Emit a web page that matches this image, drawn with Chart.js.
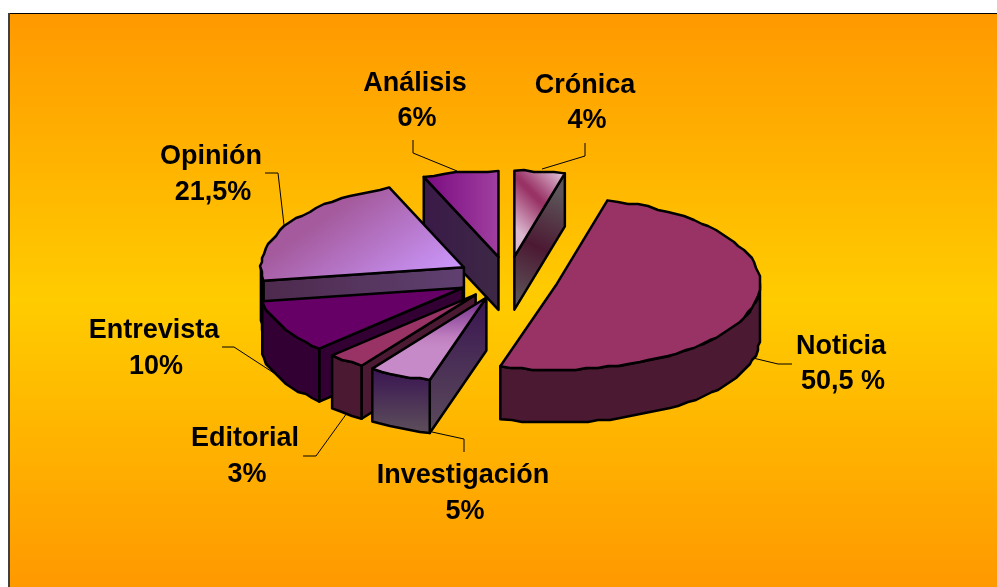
<!DOCTYPE html>
<html>
<head>
<meta charset="utf-8">
<title>Géneros</title>
<script src="https://cdn.jsdelivr.net/npm/chart.js@4/dist/chart.umd.min.js"></script>
<style>
  html, body { margin: 0; padding: 0; background: #fff; overflow: hidden; }
  canvas { display: block; }
</style>
</head>
<body>
<canvas id="pie" width="997" height="587"></canvas>
<script>
// clockwise from 12 o'clock, as in the picture
const categories = ["Crónica", "Noticia", "Investigación", "Editorial", "Entrevista", "Opinión", "Análisis"]
const values = [4, 50.5, 5, 3, 10, 21.5, 6]
const valueLabels = ["4%", "50,5 %", "5%", "3%", "10%", "21,5%", "6%"]

// look of the pie
const pie = { x: 508, y: 278, rx: 203, ry: 86, depth: 53, explode: 0.25 }

// painting order is back to front
const paintOrder = [0, 6, 5, 4, 3, 2, 1]

// top: gradient line relative to the slice apex, then stops
const looks = [
  {
    top: [[42, -87, -8, -37], ["#dcb8d0", "#993366", "#993366", "#dcb8d0"], [0, 0.45, 0.5, 1]],
    wall: [[0, -85, -50, 20], ["#5c5458", "#4c1933", "#5c5458"], [0, 0.5, 1]],
  },
  { top: "#993366", wall: "#4c1933" },
  {
    top: [[0, 0, 0, 50], ["#702a88", "#c080c0", "#c68ac8"], [0, 0.8, 1]],
    wall: [[0, 0, 0, 133], ["#3a1552", "#5a4a5a"], [0, 1]],
    rim: [[0, 72, 0, 130], ["#3a1552", "#5a4a5a"], [0, 1]],
  },
  { top: "#993366", wall: "#4c1933" },
  { top: "#660066", wall: "#330033" },
  {
    top: [[-90, -85, -20, 15], ["#a45a9c", "#cc99ff"], [0, 1]],
    wall: [[-200, 0, 0, 0], ["#4d2a4d", "#5f4070"], [0, 1]],
  },
  {
    top: [[-75, 0, 0, 0], ["#7a0a80", "#a040a0"], [0, 1]],
    wall: [[-75, 0, 0, 0], ["#3a1a48", "#3d2845"], [0, 1]],
  },
]

// label text centres and leader lines, same order as categories
const labelSpots = [
  { x: 585, y: 86, dy: 35, line: [[585, 143], [585, 156], [542, 169]] },
  { x: 841, y: 347, dy: 35, line: [[753, 358], [778, 364], [792, 364]] },
  { x: 463, y: 476, dy: 36, line: [[432, 432], [464, 439], [464, 452]] },
  { x: 245, y: 439, dy: 36, line: [[347, 413], [316, 456], [303, 456]] },
  { x: 154, y: 331, dy: 36, line: [[222, 347], [234, 347], [280, 377]] },
  { x: 211, y: 157, dy: 36, line: [[265, 173], [278, 173], [284, 225]] },
  { x: 415, y: 84, dy: 35, line: [[413, 140], [413, 153], [457, 171]] },
]

function paint(ctx, apexX, apexY, look) {
  if (typeof look === "string") return look
  const [pts, colors, stops] = look
  const g = ctx.createLinearGradient(apexX + pts[0], apexY + pts[1], apexX + pts[2], apexY + pts[3])
  colors.forEach((c, i) => g.addColorStop(stops[i], c))
  return g
}

function face(ctx, fill) {
  ctx.fillStyle = fill
  ctx.fill()
  ctx.stroke()
}

// the curved edges in the picture are stepped, so snap them to a coarse grid
function roughArc(ctx, cx, cy, from, to) {
  const grid = 2
  const n = Math.max(2, Math.round((Math.abs(to - from) * pie.rx) / 11))
  for (let k = 0; k <= n; k++) {
    const a = from + ((to - from) * k) / n
    let x = cx + Math.cos(a) * pie.rx
    let y = cy + Math.sin(a) * pie.ry
    if (k > 0 && k < n) {
      x = Math.round(x / grid) * grid
      y = Math.round(y / grid) * grid
    }
    ctx.lineTo(x, y)
  }
}

function wall(ctx, cx, cy, angle, fill) {
  const px = cx + Math.cos(angle) * pie.rx
  const py = cy + Math.sin(angle) * pie.ry
  ctx.beginPath()
  ctx.moveTo(cx, cy)
  ctx.lineTo(px, py)
  ctx.lineTo(px, py + pie.depth)
  ctx.lineTo(cx, cy + pie.depth)
  ctx.closePath()
  face(ctx, fill)
}

const panel = {
  id: "panel",
  beforeDraw(chart) {
    const { ctx } = chart
    const g = ctx.createLinearGradient(0, 14, 0, 587)
    g.addColorStop(0, "#ff9900")
    g.addColorStop(0.5, "#ffcc00")
    g.addColorStop(1, "#ff9900")
    ctx.fillStyle = "#fff"
    ctx.fillRect(0, 0, 997, 587)
    ctx.fillStyle = g
    ctx.fillRect(9, 14, 988, 573)
    ctx.fillStyle = "#000"
    ctx.fillRect(8, 13, 989, 1)
    ctx.fillStyle = "#404040"
    ctx.fillRect(8, 13, 2, 574)
  },
}

// Chart.js works out the slice angles, this tilts and extrudes them
const tilted = {
  id: "tilted",
  beforeDatasetsDraw(chart) {
    const { ctx } = chart
    const arcs = chart.getDatasetMeta(0).data
    ctx.save()
    ctx.strokeStyle = "#000"
    ctx.lineWidth = 2.5
    ctx.lineJoin = "round"
    paintOrder.forEach((i) => {
      const { startAngle: a0, endAngle: a1 } = arcs[i]
      const look = looks[i]
      const mid = (a0 + a1) / 2
      const cx = pie.x + Math.cos(mid) * pie.rx * pie.explode
      const cy = pie.y + Math.sin(mid) * pie.ry * pie.explode

      if (Math.cos(a0) < -0.001) wall(ctx, cx, cy, a0, paint(ctx, cx, cy, look.wall))
      if (Math.cos(a1) > 0.001) wall(ctx, cx, cy, a1, paint(ctx, cx, cy, look.wall))

      const from = Math.max(a0, 0)
      const to = Math.min(a1, Math.PI)
      if (to > from) {
        ctx.beginPath()
        roughArc(ctx, cx, cy, from, to)
        roughArc(ctx, cx, cy + pie.depth, to, from)
        ctx.closePath()
        face(ctx, paint(ctx, cx, cy, look.rim || look.wall))
      }

      ctx.beginPath()
      ctx.moveTo(cx, cy)
      roughArc(ctx, cx, cy, a0, a1)
      ctx.closePath()
      face(ctx, paint(ctx, cx, cy, look.top))
    })
    ctx.restore()
    return false
  },
  afterDraw(chart) {
    const { ctx } = chart
    ctx.save()
    ctx.strokeStyle = "#000"
    ctx.lineWidth = 1
    labelSpots.forEach((s) => {
      ctx.beginPath()
      s.line.forEach(([x, y], k) => (k ? ctx.lineTo(x, y) : ctx.moveTo(x, y)))
      ctx.stroke()
    })
    ctx.fillStyle = "#000"
    ctx.font = 'bold 27px "Liberation Sans"'
    ctx.textAlign = "center"
    ctx.textBaseline = "middle"
    categories.forEach((c, i) => {
      const s = labelSpots[i]
      ctx.fillText(c, s.x, s.y)
      ctx.fillText(valueLabels[i], s.x + 2, s.y + s.dy)
    })
    ctx.restore()
  },
}

new Chart(document.querySelector("#pie"), {
  type: "pie",
  data: {
    labels: categories,
    datasets: [{ data: values, borderWidth: 0 }],
  },
  options: {
    responsive: false,
    animation: false,
    plugins: { legend: { display: false }, tooltip: { enabled: false } },
  },
  plugins: [panel, tilted],
})
</script>
</body>
</html>
